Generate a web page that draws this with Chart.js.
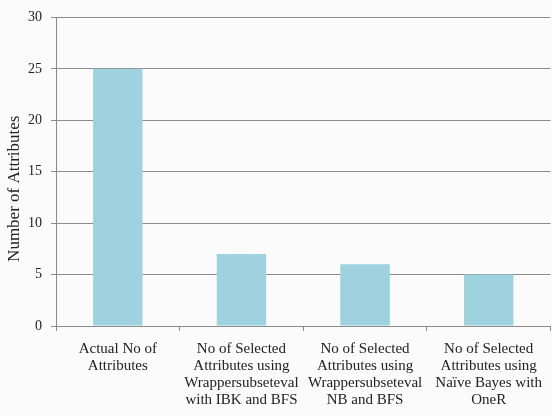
<!DOCTYPE html>
<html lang="en">
<head>
    <meta charset="UTF-8">
    <title>Number of Attributes</title>
    <script src="https://cdn.jsdelivr.net/npm/chart.js"></script>
    <style>
        html, body {
            margin: 0;
            padding: 0;
            background: #fbfbfb;
        }
        #wrap {
            width: 552px;
            height: 416px;
        }
    </style>
</head>
<body>
    <div id="wrap">
        <canvas id="attrChart" width="552" height="416"></canvas>
    </div>

    <script>
        const categories = [
            ['Actual No of', 'Attributes'],
            ['No of Selected', 'Attributes using', 'Wrappersubseteval', 'with IBK and BFS'],
            ['No of Selected', 'Attributes using', 'Wrappersubseteval', 'NB and BFS'],
            ['No of Selected', 'Attributes using', 'Naïve Bayes with', 'OneR']
        ];
        const attributeCounts = [25, 7, 6, 5];
        const yTicks = [0, 5, 10, 15, 20, 25, 30];
        const yTitle = 'Number of Attributes';

        const fontFamily = '"Liberation Serif", "DejaVu Serif", serif';
        const ctx = document.getElementById('attrChart').getContext('2d');

        // y title drawn by hand so it can sit a bit below the axis middle, as in the original
        const yTitlePlugin = {
            id: 'yTitle',
            afterDraw(chart) {
                const c = chart.ctx;
                const area = chart.chartArea;
                c.save();
                c.translate(15, (area.top + area.bottom) / 2 + 17);
                c.rotate(-Math.PI / 2);
                c.font = '17px ' + fontFamily;
                c.fillStyle = '#222';
                c.textAlign = 'center';
                c.textBaseline = 'middle';
                c.fillText(yTitle, 0, 0);
                c.restore();
            }
        };

        new Chart(ctx, {
            type: 'bar',
            data: {
                labels: categories,
                datasets: [{
                    label: yTitle,
                    data: attributeCounts,
                    backgroundColor: '#9dd2de',
                    borderWidth: 0,
                    categoryPercentage: 1,
                    barPercentage: 0.4
                }]
            },
            options: {
                responsive: false,
                animation: false,
                layout: { padding: { top: 15, right: 0, left: 0, bottom: 0 } },
                plugins: {
                    legend: { display: false },
                    tooltip: { enabled: false }
                },
                scales: {
                    x: {
                        grid: {
                            offset: true,
                            drawOnChartArea: false,
                            drawTicks: true,
                            tickLength: 5,
                            color: '#8a8a8a'
                        },
                        border: { color: '#8a8a8a', width: 1 },
                        ticks: {
                            color: '#222',
                            maxRotation: 0,
                            autoSkip: false,
                            padding: 10,
                            font: { family: fontFamily, size: 15, lineHeight: '17px' }
                        },
                        afterFit: axis => { axis.height = 90; }
                    },
                    y: {
                        min: 0,
                        max: 30,
                        afterBuildTicks: axis => {
                            axis.ticks = yTicks.map(v => ({ value: v }));
                        },
                        grid: {
                            color: '#8c8c8c',
                            tickLength: 5
                        },
                        border: { color: '#8a8a8a', width: 1 },
                        ticks: {
                            color: '#222',
                            padding: 9,
                            font: { family: fontFamily, size: 14 }
                        },
                        afterFit: axis => { axis.width = 56; }
                    }
                }
            },
            plugins: [yTitlePlugin]
        });
    </script>
</body>
</html>
